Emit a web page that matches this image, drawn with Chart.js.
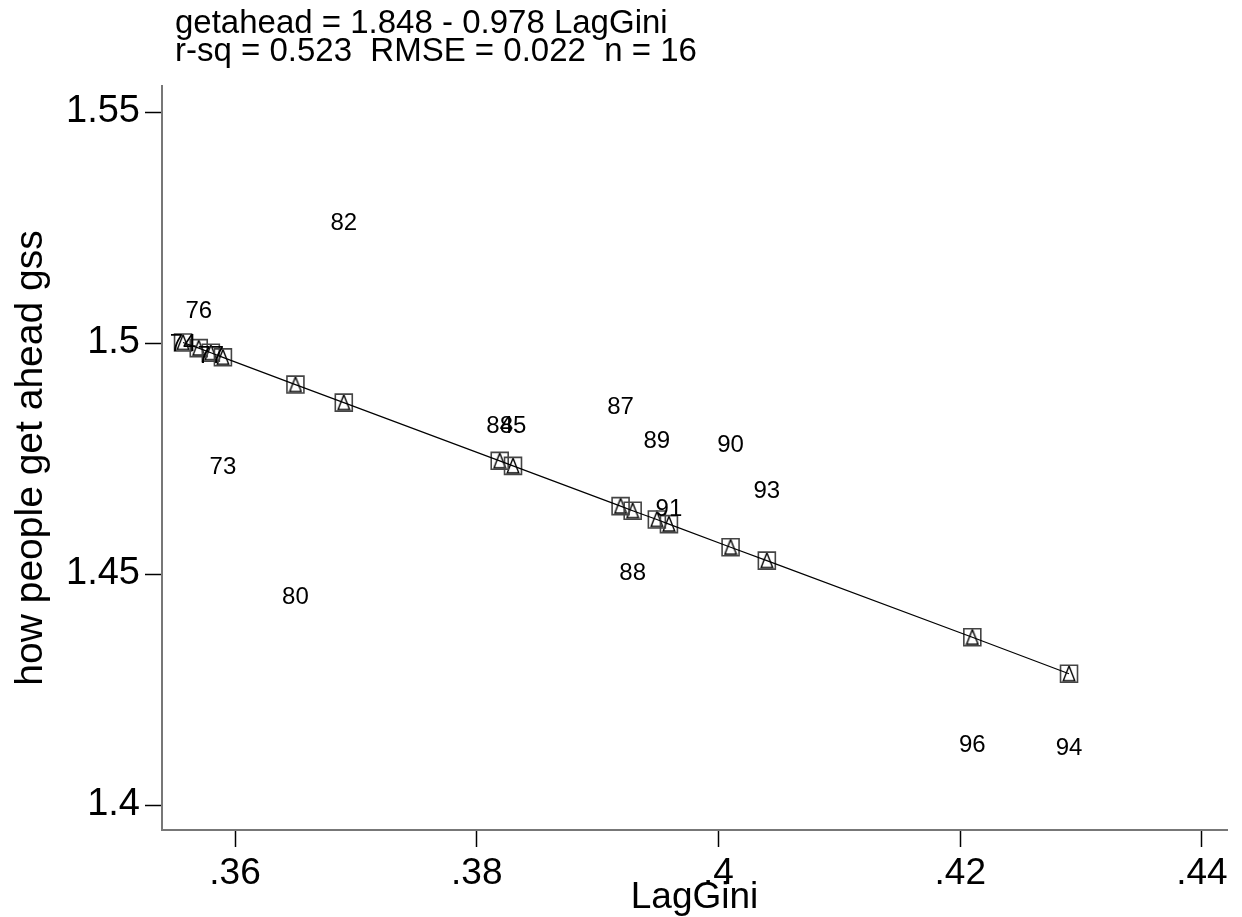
<!DOCTYPE html>
<html>
<head>
<meta charset="utf-8">
<script src="https://cdn.jsdelivr.net/npm/chart.js@4/dist/chart.umd.min.js"></script>
<style>
  html, body { margin: 0; padding: 0; background: #fff; }
  #wrap { width: 1242px; height: 917px; position: relative; }
</style>
</head>
<body>
<div id="wrap"><canvas id="chart"></canvas></div>
<script>
  const years = ["74", "76", "77", "73", "80", "82", "84", "85", "87", "88", "89", "91", "90", "93", "96", "94"];
  const lagGini = [0.3557, 0.3570, 0.3580, 0.3590, 0.3650, 0.3690, 0.3819, 0.3830, 0.3919, 0.3929, 0.3949, 0.3959, 0.4010, 0.4040, 0.4210, 0.4290];
  const getahead = [1.4999, 1.5071, 1.4974, 1.4734, 1.4452, 1.5262, 1.4822, 1.4822, 1.4863, 1.4503, 1.4790, 1.4641, 1.4781, 1.4682, 1.4131, 1.4125];
  // fitted values on the regression line
  const fitted = [1.5001, 1.4989, 1.4979, 1.4969, 1.4910, 1.4871, 1.4745, 1.4734, 1.4647, 1.4637, 1.4618, 1.4608, 1.4558, 1.4529, 1.4363, 1.4284];

  const xTicks = [0.36, 0.38, 0.40, 0.42, 0.44];
  const xTickLabels = [".36", ".38", ".4", ".42", ".44"];
  const yTicks = [1.40, 1.45, 1.50, 1.55];
  const yTickLabels = ["1.4", "1.45", "1.5", "1.55"];

  const titleLines = ["getahead = 1.848 - 0.978 LagGini", "r-sq = 0.523  RMSE = 0.022  n = 16"];

  const FONT = "'Liberation Sans', Arial, sans-serif";

  const toPoints = (ys) => lagGini.map((x, i) => ({ x, y: ys[i] }));

  // narrow hollow triangle glyph, like the Stata marker
  function triangleGlyph() {
    const c = document.createElement("canvas");
    c.width = 14;
    c.height = 18;
    const g = c.getContext("2d");
    g.strokeStyle = "#000";
    g.lineWidth = 1.4;
    g.beginPath();
    g.moveTo(7, 1.2);
    g.lineTo(1.2, 16);
    g.lineTo(12.8, 16);
    g.closePath();
    g.stroke();
    return c;
  }

  const yearLabels = {
    id: "yearLabels",
    afterDatasetsDraw(chart) {
      const meta = chart.getDatasetMeta(0);
      const ctx = chart.ctx;
      ctx.save();
      ctx.fillStyle = "#000";
      ctx.font = "24px " + FONT;
      ctx.textAlign = "center";
      ctx.textBaseline = "middle";
      meta.data.forEach((pt, i) => {
        ctx.fillText(years[i], pt.x, pt.y + 1);
      });
      ctx.restore();
    }
  };

  const headerText = {
    id: "headerText",
    afterDraw(chart) {
      const ctx = chart.ctx;
      const left = chart.chartArea.left + 13;
      ctx.save();
      ctx.fillStyle = "#000";
      ctx.font = "33px " + FONT;
      ctx.textAlign = "left";
      ctx.textBaseline = "alphabetic";
      ctx.fillText(titleLines[0], left, 33);
      ctx.fillText(titleLines[1], left, 61);
      ctx.restore();
    }
  };

  new Chart(document.getElementById("chart"), {
    type: "scatter",
    data: {
      datasets: [
        {
          label: "getahead",
          data: toPoints(getahead),
          pointRadius: 0,
          pointHoverRadius: 0
        },
        {
          label: "fit line",
          type: "line",
          data: toPoints(fitted),
          showLine: true,
          borderColor: "#000",
          borderWidth: 1.2,
          pointRadius: 0,
          fill: false
        },
        {
          label: "fit squares",
          data: toPoints(fitted),
          pointStyle: "rect",
          pointRadius: 12,
          borderColor: "#444",
          borderWidth: 1.6,
          backgroundColor: "rgba(0,0,0,0)"
        },
        {
          label: "fit triangles",
          data: toPoints(fitted),
          pointStyle: triangleGlyph(),
          pointRadius: 8
        }
      ]
    },
    options: {
      responsive: true,
      maintainAspectRatio: false,
      animation: false,
      layout: { padding: { top: 86, right: 15, left: 0, bottom: 0 } },
      plugins: {
        legend: { display: false },
        title: { display: false },
        tooltip: { enabled: false }
      },
      scales: {
        x: {
          type: "linear",
          min: 0.35396,
          max: 0.44207,
          afterBuildTicks: (scale) => { scale.ticks = xTicks.map((v) => ({ value: v })); },
          afterFit: (scale) => { scale.height = 87; },
          border: { display: true, color: "#777", width: 2 },
          grid: { drawOnChartArea: false, drawTicks: true, tickLength: 17, tickColor: "#000", tickWidth: 1.5 },
          ticks: {
            color: "#000",
            padding: 5,
            maxRotation: 0,
            font: { family: FONT, size: 37 },
            callback: (v) => {
              const i = xTicks.findIndex((t) => Math.abs(t - v) < 1e-9);
              return i >= 0 ? xTickLabels[i] : "";
            }
          },
          title: {
            display: true,
            text: "LagGini",
            color: "#000",
            font: { family: FONT, size: 37, lineHeight: 1.2 },
            padding: { top: 0, bottom: -3 }
          }
        },
        y: {
          type: "linear",
          min: 1.39459,
          max: 1.55563,
          afterBuildTicks: (scale) => { scale.ticks = yTicks.map((v) => ({ value: v })); },
          afterFit: (scale) => { scale.width = 162; },
          border: { display: true, color: "#777", width: 2 },
          grid: { drawOnChartArea: false, drawTicks: true, tickLength: 17, tickColor: "#000", tickWidth: 1.5 },
          ticks: {
            color: "#000",
            padding: 5,
            font: { family: FONT, size: 38 },
            callback: (v) => {
              const i = yTicks.findIndex((t) => Math.abs(t - v) < 1e-9);
              return i >= 0 ? yTickLabels[i] : "";
            }
          },
          title: {
            display: true,
            text: "how people get ahead gss",
            color: "#000",
            font: { family: FONT, size: 39, lineHeight: 1.2 },
            padding: { top: 8, bottom: 0 }
          }
        }
      }
    },
    plugins: [yearLabels, headerText]
  });
</script>
</body>
</html>
